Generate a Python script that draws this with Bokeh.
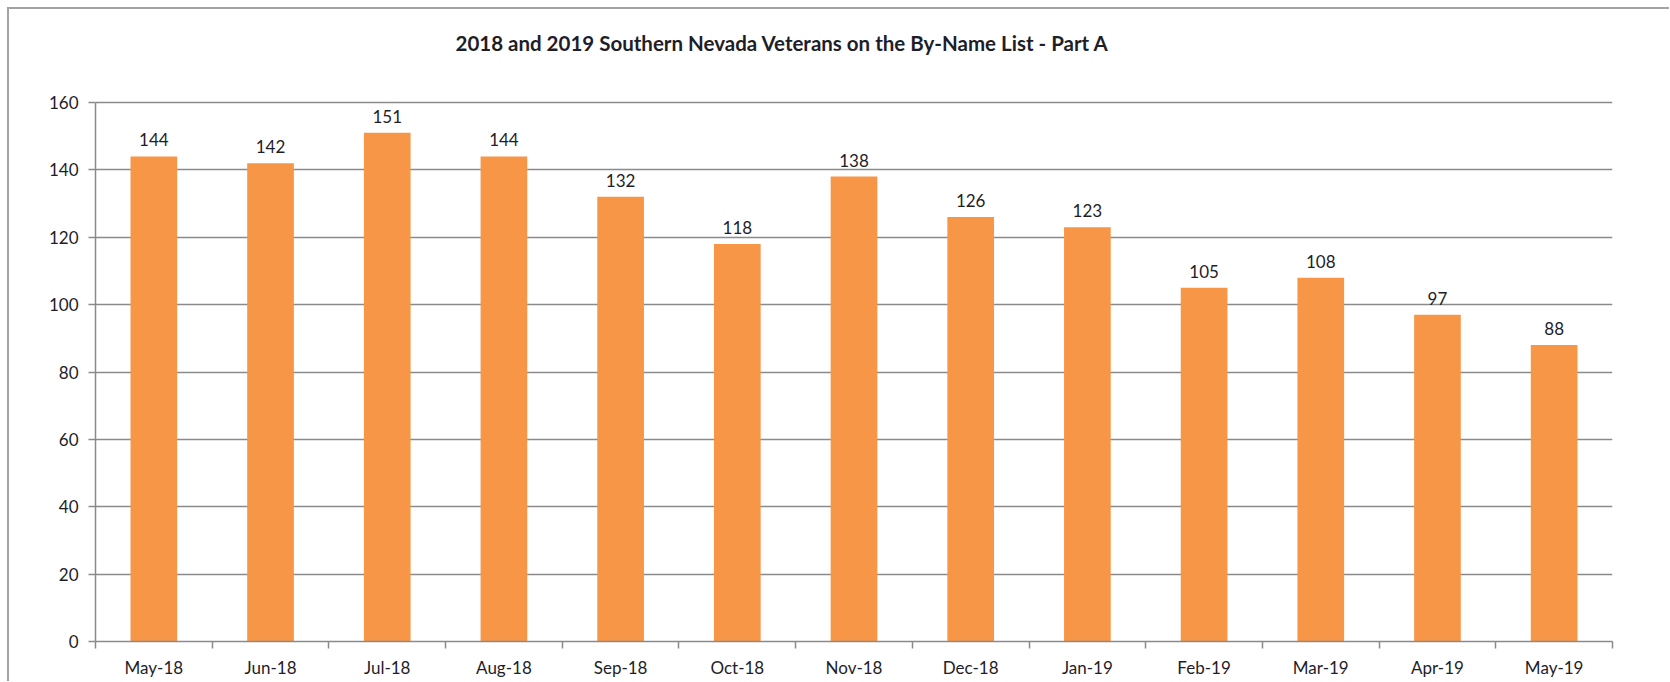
from bokeh.plotting import figure
from bokeh.models import FixedTicker, Range1d, ColumnDataSource, LabelSet, Label
from bokeh.core.properties import value
from bokeh.embed import file_html
from bokeh.resources import INLINE

# ---- data ----
months = ["May-18", "Jun-18", "Jul-18", "Aug-18", "Sep-18", "Oct-18", "Nov-18",
          "Dec-18", "Jan-19", "Feb-19", "Mar-19", "Apr-19", "May-19"]
counts = [144, 142, 151, 144, 132, 118, 138, 126, 123, 105, 108, 97, 88]
y_ticks = [0, 20, 40, 60, 80, 100, 120, 140, 160]
title_text = "2018 and 2019 Southern Nevada Veterans on the By-Name List - Part A"

FONT = "Lato"
TXT = "#1e1e28"
AX = "#8a8a8a"
BAR = "#F79646"

# layout constants (pixels)
PLOT_W, PLOT_H = 1517, 539      # area spanned by the value axis 0..160
HEAD_H = 82                     # extra frame space above the value axis for the title
FRAME_H = PLOT_H + HEAD_H
px_per_unit = PLOT_H / (y_ticks[-1] - y_ticks[0])
y_top = y_ticks[-1] + HEAD_H / px_per_unit

idx = list(range(len(months)))
src = ColumnDataSource(dict(x=idx, top=counts, label=[str(c) for c in counts]))

p = figure(frame_width=PLOT_W, frame_height=FRAME_H,
           x_range=Range1d(-0.5, len(months) - 0.5),
           y_range=Range1d(y_ticks[0], y_top),
           output_backend="svg", toolbar_location=None,
           min_border_left=86, min_border_top=11, min_border_right=57, min_border_bottom=40)
p.styles = {"border-left": "2px solid #a3a3a3", "border-top": "2px solid #a3a3a3",
            "margin-left": "7px", "margin-top": "7px"}
p.outline_line_color = None
p.background_fill_color = "white"
p.border_fill_color = "white"

p.vbar(x="x", top="top", width=0.4, source=src, fill_color=BAR, line_color=None)

p.add_layout(LabelSet(x="x", y="top", text="label", source=src, y_offset=10,
                      text_align="center", text_baseline="bottom",
                      text_font=value(FONT), text_font_size=value("17px"), text_color=TXT))

# chart title, placed in the head room of the frame
px_per_cat = PLOT_W / len(months)
p.add_layout(Label(x=-0.5 + 360 / px_per_cat, y=y_top - 22 / px_per_unit,
                   text=title_text, text_align="left", text_baseline="middle",
                   text_font=FONT, text_font_style="bold", text_font_size="20.5px",
                   text_color=TXT))

# x axis: labels at centres, ticks at category boundaries
p.xaxis.ticker = FixedTicker(ticks=idx, minor_ticks=[i - 0.5 for i in range(len(months) + 1)])
p.xaxis.major_label_overrides = {i: m for i, m in enumerate(months)}
p.xaxis.major_tick_line_color = None
p.xaxis.minor_tick_line_color = AX
p.xaxis.minor_tick_line_width = 1.5
p.xaxis.minor_tick_in = 0
p.xaxis.minor_tick_out = 7
p.xaxis.major_tick_out = 7
p.xaxis.major_label_standoff = 8
p.xaxis.axis_line_color = AX
p.xaxis.axis_line_width = 1.5
p.xaxis.major_label_text_font = FONT
p.xaxis.major_label_text_font_size = "17px"
p.xaxis.major_label_text_color = TXT
p.xgrid.visible = False

p.yaxis.ticker = FixedTicker(ticks=y_ticks)
p.yaxis.bounds = (y_ticks[0], y_ticks[-1])
p.yaxis.major_tick_in = 0
p.yaxis.major_tick_out = 7
p.yaxis.major_tick_line_color = AX
p.yaxis.major_tick_line_width = 1.5
p.yaxis.minor_tick_line_color = None
p.yaxis.axis_line_color = AX
p.yaxis.axis_line_width = 1.5
p.yaxis.major_label_standoff = 10
p.yaxis.major_label_text_font = FONT
p.yaxis.major_label_text_font_size = "17px"
p.yaxis.major_label_text_color = TXT
p.ygrid.ticker = FixedTicker(ticks=y_ticks)
p.ygrid.grid_line_color = AX
p.ygrid.grid_line_width = 1.5

open("out.html", "w").write(file_html(p, INLINE))
